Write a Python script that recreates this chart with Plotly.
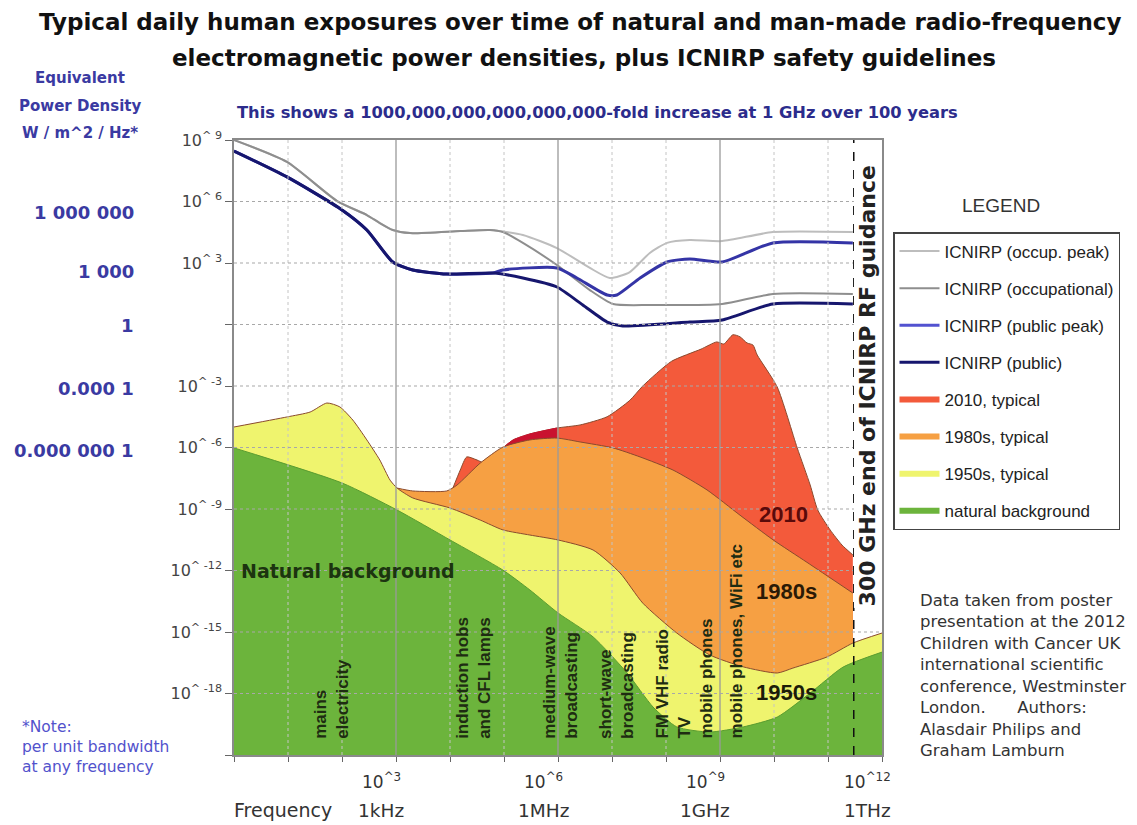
import plotly.graph_objects as go

# ---------------------------------------------------------------------------
# Data: decimal exponents (log10 of frequency in Hz, log10 of power density)
# ---------------------------------------------------------------------------
natural_f = [0, 2.0, 3.02, 4.0, 4.98, 5.48, 6.0, 6.65, 7.28, 7.76, 8.20, 8.81,
             9.43, 10.06, 10.67, 11.28, 12.0]
natural_s = [-6.02, -7.73, -9.05, -10.51, -11.98, -12.95, -14.07, -15.24, -17.0,
             -18.66, -19.63, -19.88, -19.63, -19.15, -17.98, -16.71, -15.98]

y1950_f = [0, 0.98, 1.41, 1.72, 1.96, 2.20, 2.46, 2.70, 2.89, 3.02, 3.31, 4.0,
           4.56, 4.98, 5.48, 6.0, 6.65, 7.15, 7.57, 8.20, 8.81, 9.43, 10.06,
           10.35, 10.98, 11.46, 12.0]
y1950_s = [-5.0, -4.51, -4.27, -3.83, -4.02, -4.66, -5.63, -6.61, -7.59, -7.98,
           -8.46, -8.95, -9.54, -10.02, -10.27, -10.51, -11.0, -12.12, -13.59,
           -15.05, -16.12, -16.70, -17.0, -16.76, -16.22, -15.54, -15.05]

y1980_f = [3.02, 3.31, 3.94, 4.13, 4.56, 4.98, 5.48, 5.98, 6.41, 7.02, 7.52,
           8.13, 8.76, 9.37, 9.98, 10.61, 11.46]
y1980_s = [-7.98, -8.12, -8.12, -7.83, -6.76, -5.98, -5.63, -5.54, -5.73, -6.02,
           -6.46, -7.10, -8.07, -9.30, -10.50, -11.60, -13.10]

y2010_f = [4.04, 4.19, 4.31, 4.50, 4.65, 4.98, 5.17, 5.48, 5.98, 6.41, 6.91,
           7.33, 7.57, 8.10, 8.65, 8.94, 9.07, 9.24, 9.37, 9.50, 9.61, 9.69,
           10.06, 10.43, 10.67, 10.81, 11.04, 11.26, 11.46]
y2010_s = [-8.07, -7.10, -6.46, -6.61, -6.76, -6.02, -5.63, -5.34, -5.05, -4.90,
           -4.50, -3.70, -3.00, -1.80, -1.20, -0.85, -0.95, -0.50, -0.60, -0.90,
           -1.00, -1.49, -3.05, -6.02, -7.83, -9.05, -10.02, -10.76, -11.24]

occ_peak_f = [0, 0.98, 1.91, 2.46, 2.70, 2.94, 3.26, 4.19, 4.74, 5.35, 5.98,
              6.59, 6.96, 7.33, 7.70, 8.02, 8.44, 9.04, 9.98, 11.46]
occ_peak_s = [9.0, 7.93, 6.02, 5.34, 4.95, 4.61, 4.46, 4.56, 4.61, 4.37, 3.73,
              2.76, 2.27, 2.56, 3.49, 3.98, 4.12, 4.07, 4.51, 4.51]

occ_f = [0, 0.98, 1.91, 2.46, 2.70, 2.94, 3.26, 4.19, 4.74, 4.98, 5.35, 5.98,
         6.59, 7.02, 7.70, 9.04, 9.98, 11.46]
occ_s = [9.0, 7.93, 6.02, 5.34, 4.95, 4.61, 4.46, 4.56, 4.61, 4.51, 3.98, 2.90,
         1.68, 1.00, 0.95, 1.00, 1.49, 1.49]

pub_peak_f = [0, 0.98, 2.0, 2.46, 2.94, 3.31, 3.94, 4.80, 4.98, 5.98, 6.35,
              6.91, 7.09, 7.52, 8.02, 8.44, 9.04, 9.98, 11.46]
pub_peak_s = [8.46, 7.20, 5.59, 4.61, 3.05, 2.66, 2.46, 2.51, 2.66, 2.76, 2.27,
              1.44, 1.44, 2.27, 3.05, 3.20, 3.05, 3.98, 3.98]

pub_f = [0, 0.98, 2.0, 2.46, 2.94, 3.31, 3.94, 4.80, 5.35, 5.98, 6.46, 6.91,
         7.20, 8.44, 9.04, 9.98, 11.46]
pub_s = [8.46, 7.20, 5.59, 4.61, 3.05, 2.66, 2.46, 2.51, 2.27, 1.83, 0.95, 0.12,
         -0.07, 0.12, 0.22, 1.00, 1.00]

# darker overlap band of the 2010 exposure between 100 kHz and 1 MHz
band_lo, band_hi = 4.98, 5.98

y_tick_exp = [9, 6, 3, 0, -3, -6, -9, -12, -15, -18, -21]
y_tick_text = ["10<sup>^ 9</sup>", "10<sup>^ 6</sup>", "10<sup>^ 3</sup>", "",
               "10<sup>^ -3</sup>", "10<sup>^ -6</sup>", "10<sup>^ -9</sup>",
               "10<sup>^ -12</sup>", "10<sup>^ -15</sup>", "10<sup>^ -18</sup>", ""]
left_values = ["1 000 000", "1 000", "1", "0.000 1", "0.000 000 1"]
x_major_exp = [3, 6, 9, 12]
x_major_text = [("10<sup>^3</sup>", "1kHz"), ("10<sup>^6</sup>", "1MHz"),
                ("10<sup>^9</sup>", "1GHz"), ("10<sup>^12</sup>", "1THz")]
band_labels = [(1.80, "mains<br>electricity"),
               (4.43, "induction hobs<br>and CFL lamps"),
               (6.04, "medium-wave<br>broadcasting"),
               (7.07, "short-wave<br>broadcasting"),
               (8.35, "FM VHF radio<br>TV<br>mobile phones"),
               (9.31, "mobile phones, WiFi etc")]

FLOOR = -22
GUIDANCE_END_HZ = 3e11

C_RED, C_CRIMSON, C_ORANGE = "#f35a3b", "#c9122f", "#f6a043"
C_YELLOW, C_GREEN = "#eff46e", "#6cb43c"
C_EDGE = "#8a4a2e"
C_OCC_PEAK, C_OCC, C_PUB_PEAK, C_PUB = "#bdbdbd", "#8e8e8e", "#3434a6", "#16166e"

SANS = "Liberation Sans, Arial, sans-serif"
WIDE = "DejaVu Sans, Verdana, sans-serif"


def p10(vals):
    return [10 ** v for v in vals]


fig = go.Figure()


def add_area(fx, fs, fill, edge):
    # invisible floor line, then the exposure curve filled down to it
    fig.add_trace(go.Scatter(x=p10([fx[0], fx[-1]]), y=p10([FLOOR, FLOOR]),
                             mode="lines", line=dict(width=0, color=fill),
                             showlegend=False, hoverinfo="skip"))
    fig.add_trace(go.Scatter(x=p10(fx), y=p10(fs), mode="lines", fill="tonexty",
                             fillcolor=fill,
                             line=dict(color=edge, width=1, shape="spline",
                                       smoothing=0.6),
                             showlegend=False, hoverinfo="skip"))


add_area(y2010_f, y2010_s, C_RED, C_EDGE)
band_idx = [i for i, f in enumerate(y2010_f) if band_lo <= f <= band_hi]
add_area([y2010_f[i] for i in band_idx], [y2010_s[i] for i in band_idx],
         C_CRIMSON, C_CRIMSON)
add_area(y1980_f, y1980_s, C_ORANGE, C_EDGE)
add_area(y1950_f, y1950_s, C_YELLOW, C_EDGE)
add_area(natural_f, natural_s, C_GREEN, "#5a9c30")

for fx, fs, col, w in [(occ_peak_f, occ_peak_s, C_OCC_PEAK, 2),
                       (occ_f, occ_s, C_OCC, 2),
                       (pub_peak_f, pub_peak_s, C_PUB_PEAK, 3),
                       (pub_f, pub_s, C_PUB, 3)]:
    fig.add_trace(go.Scatter(x=p10(fx), y=p10(fs), mode="lines",
                             line=dict(color=col, width=w, shape="spline",
                                       smoothing=0.6),
                             showlegend=False, hoverinfo="skip"))

# legend entries
legend_items = [("ICNIRP (occup. peak)", C_OCC_PEAK, 2),
                ("ICNIRP (occupational)", C_OCC, 2),
                ("ICNIRP (public peak)", "#5252d0", 3),
                ("ICNIRP (public)", C_PUB, 3),
                ("2010, typical", C_RED, 6),
                ("1980s, typical", C_ORANGE, 6),
                ("1950s, typical", C_YELLOW, 6),
                ("natural background", C_GREEN, 6)]
for name, col, w in legend_items:
    fig.add_trace(go.Scatter(x=[None], y=[None], mode="lines", name=name,
                             legendgroup=name, line=dict(color=col, width=w)))

# grid drawn over the filled areas (shape coordinates are data values)
shapes = []
for k in range(1, 12):
    if k in (3, 6, 9):
        ln = dict(color="#9a9a9a", width=1.3)
    else:
        ln = dict(color="#c4c4c4", width=1, dash="dot")
    shapes.append(dict(type="line", xref="x", yref="y", x0=10 ** k, x1=10 ** k,
                       y0=1e-21, y1=1e9, line=ln, layer="above"))
for k in range(-18, 9, 3):
    shapes.append(dict(type="line", xref="x", yref="y", x0=1, x1=1e12,
                       y0=10.0 ** k, y1=10.0 ** k,
                       line=dict(color="#a8a8a8", width=1.2, dash="dot"),
                       layer="above"))
shapes.append(dict(type="line", xref="x", yref="y", x0=GUIDANCE_END_HZ,
                   x1=GUIDANCE_END_HZ, y0=1e-21, y1=1e9,
                   line=dict(color="#111111", width=1.5, dash="dash"),
                   layer="above"))

# pixel helpers for text outside the plotting area
L, R, T, B = 234, 882, 140, 755


def px(xp):
    return (xp - L) / (R - L)


def py(yp):
    return (B - yp) / (B - T)


def note(text, x, y, font, xanchor="center", yanchor="middle", **kw):
    d = dict(text=text, x=x, y=y, xref="paper", yref="paper", showarrow=False,
             xanchor=xanchor, yanchor=yanchor, font=font)
    d.update(kw)
    return d


ann = []
ann.append(note("<b>Typical daily human exposures over time of natural and man-made radio-frequency</b>",
                px(580), py(22), dict(family=WIDE, size=23, color="#111")))
ann.append(note("<b>electromagnetic power densities, plus ICNIRP safety guidelines</b>",
                px(584), py(58), dict(family=WIDE, size=23, color="#111")))
ann.append(note("<b>This shows a 1000,000,000,000,000,000-fold increase at 1 GHz over 100 years</b>",
                px(235), py(113), dict(family=WIDE, size=16.3, color="#2c2c8c"),
                xanchor="left"))
for txt, yy in [("Equivalent", 78), ("Power Density", 106), ("W / m^2 / Hz*", 133)]:
    ann.append(note("<b>" + txt + "</b>", px(80), py(yy),
                    dict(family=WIDE, size=15, color="#3a3aa2")))
for txt, yy in zip(left_values, [213, 271, 325, 388, 450]):
    ann.append(note("<b>" + txt + "</b>", px(136), py(yy),
                    dict(family=WIDE, size=18, color="#3a3aa2"), xanchor="right"))
ann.append(note("*Note:<br>per unit bandwidth<br>at any frequency", px(20), py(716),
                dict(family=WIDE, size=15.5, color="#5252cc"),
                xanchor="left", yanchor="top", align="left"))
ann.append(note("Frequency", px(283), py(810), dict(family=WIDE, size=19, color="#333")))
for k, (t1, t2) in zip(x_major_exp, x_major_text):
    ann.append(dict(text=t1, x=k, y=py(781), xref="x", yref="paper", xshift=-15,
                    xanchor="center", yanchor="middle", showarrow=False,
                    font=dict(family=WIDE, size=17, color="#333")))
    ann.append(dict(text=t2, x=k, y=py(810), xref="x", yref="paper", xshift=-15,
                    xanchor="center", yanchor="middle", showarrow=False,
                    font=dict(family=WIDE, size=18.5, color="#333")))
# annotation positions on log axes are given as exponents
for xe, txt in band_labels:
    ann.append(dict(text="<b>" + txt + "</b>", x=xe, y=-20.3, xref="x", yref="y",
                    textangle=-90, xanchor="center", yanchor="bottom",
                    align="left", showarrow=False,
                    font=dict(family=SANS, size=17, color="#1e2c12")))
ann.append(dict(text="<b>Natural background</b>", x=0.1, y=-12.0, xref="x",
                yref="y", xanchor="left", showarrow=False,
                font=dict(family=WIDE, size=19, color="#1c3410")))
ann.append(dict(text="<b>2010</b>", x=10.17, y=-9.29, xref="x", yref="y",
                showarrow=False, font=dict(family=SANS, size=22, color="#5a0a0a")))
ann.append(dict(text="<b>1980s</b>", x=10.24, y=-13.0, xref="x", yref="y",
                showarrow=False, font=dict(family=SANS, size=22, color="#2b1a06")))
ann.append(dict(text="<b>1950s</b>", x=10.24, y=-17.93, xref="x", yref="y",
                showarrow=False, font=dict(family=SANS, size=22, color="#1c1c08")))
ann.append(dict(text="<b>300 GHz end of ICNIRP RF guidance</b>", x=11.73, y=-3.0,
                xref="x", yref="y", textangle=-90, showarrow=False,
                bgcolor="white",
                font=dict(family=WIDE, size=22, color="#222")))
ann.append(note("LEGEND", px(1001), py(205), dict(family=SANS, size=19, color="#333")))
ann.append(note("Data taken from poster<br>presentation at the 2012<br>"
                "Children with Cancer UK<br>international scientific<br>"
                "conference, Westminster<br>London.      Authors:<br>"
                "Alasdair Philips and<br>Graham Lamburn",
                px(918), py(589), dict(family=WIDE, size=16.5, color="#333"),
                xanchor="left", yanchor="top", align="left"))

fig.update_layout(
    width=1137, height=825,
    margin=dict(l=L, r=1137 - R, t=T, b=825 - B),
    paper_bgcolor="white", plot_bgcolor="white",
    showlegend=True,
    legend=dict(x=px(893), y=py(232), xanchor="left", yanchor="top",
                bordercolor="#444", borderwidth=1.5, bgcolor="white",
                tracegroupgap=12, traceorder="grouped", itemwidth=40,
                font=dict(family=SANS, size=17, color="#222")),
    xaxis=dict(type="log", range=[0, 12], showgrid=False, zeroline=False,
               showline=True, mirror=True, linecolor="#8a8a8a", linewidth=1.5,
               ticks="outside", ticklen=5, tickcolor="#666",
               tickvals=[10 ** k for k in range(0, 13)], showticklabels=False),
    yaxis=dict(type="log", range=[-21, 9], showgrid=False, zeroline=False,
               showline=True, mirror=True, linecolor="#8a8a8a", linewidth=1.5,
               ticks="outside", ticklen=7, tickcolor="#666",
               tickvals=[10 ** k for k in y_tick_exp], ticktext=y_tick_text,
               tickfont=dict(family=WIDE, size=16, color="#444")),
    shapes=shapes,
    annotations=ann,
)

fig.write_html("out.html")
